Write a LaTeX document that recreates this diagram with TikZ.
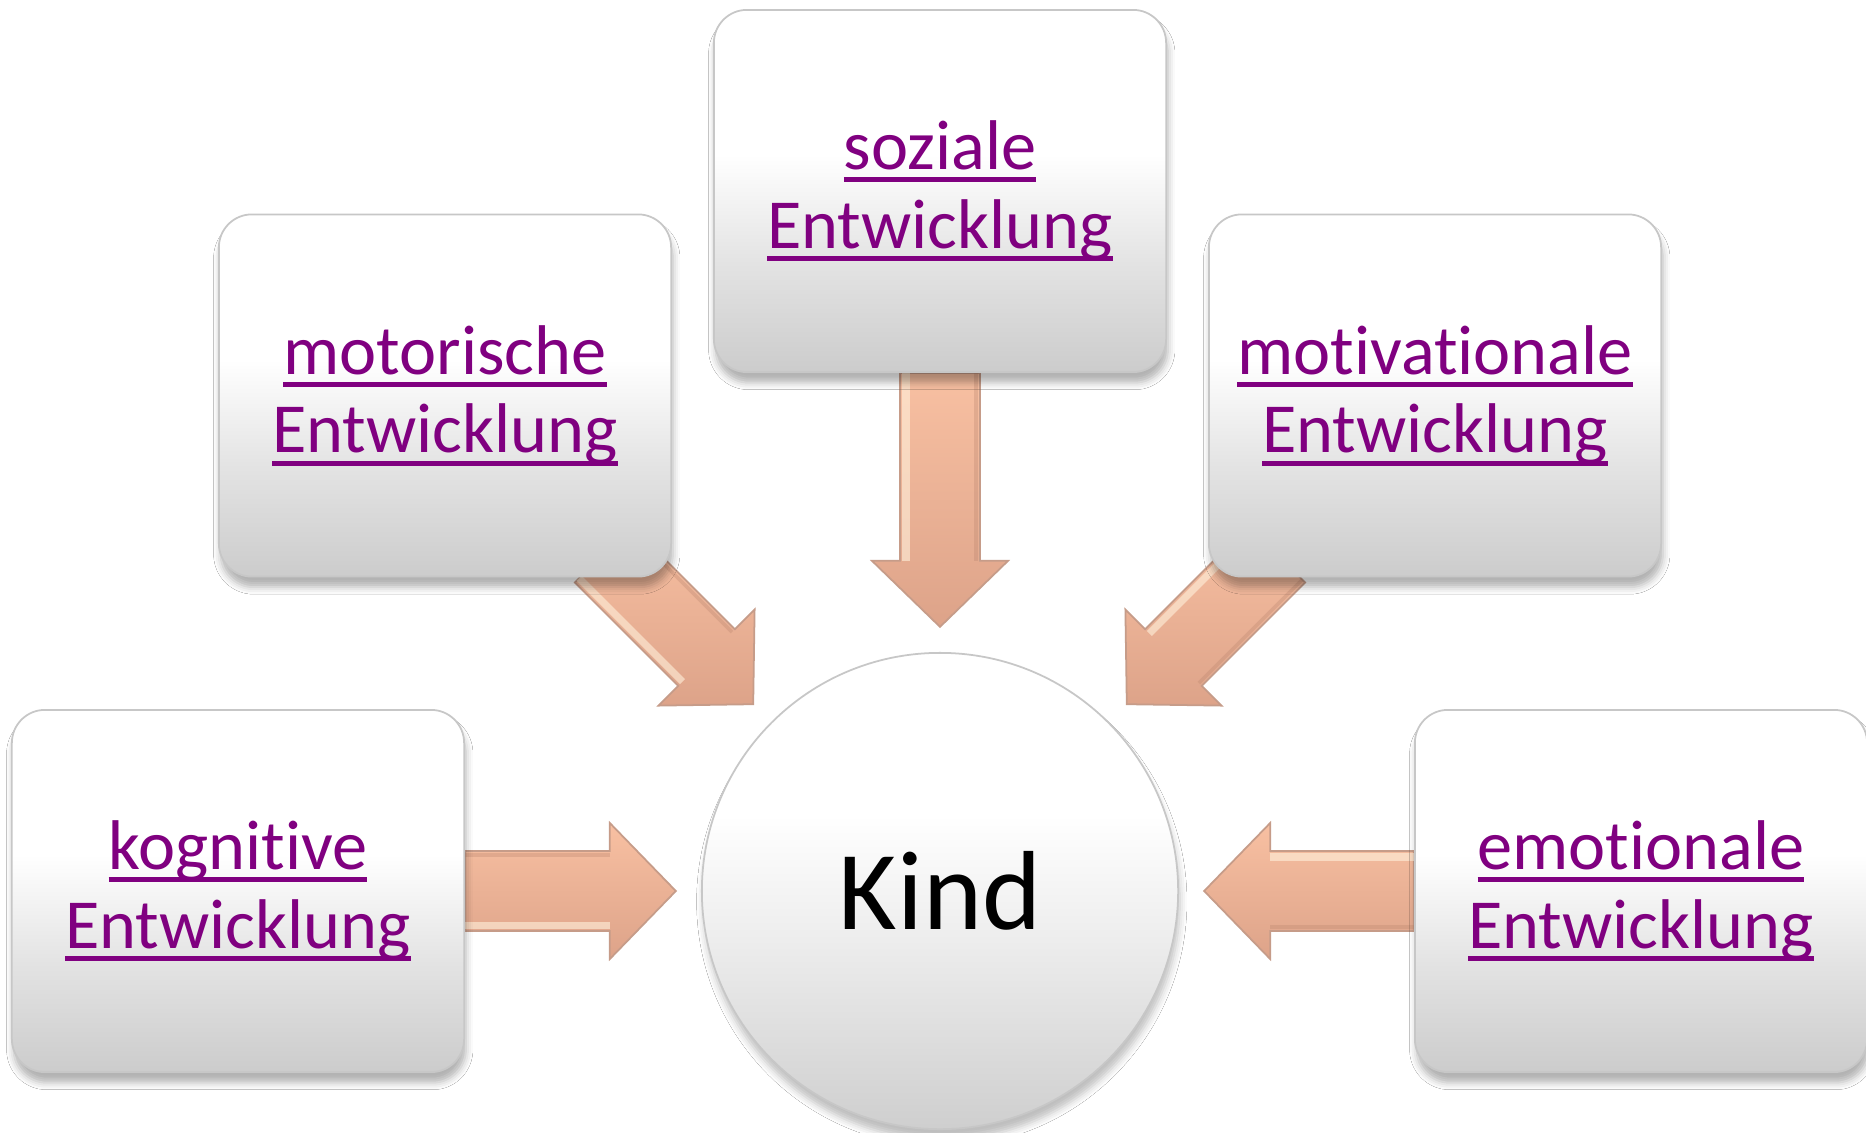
\documentclass[tikz,border=0pt]{standalone}
\usepackage{fontspec}
\setmainfont{Carlito}[RawFeature={-liga;-clig;-calt;-dlig}]
\usetikzlibrary{calc,shadows.blur}
\definecolor{lila}{HTML}{800080}
\definecolor{arrTop}{HTML}{F8C0A2}
\definecolor{arrBot}{HTML}{DDA389}
\definecolor{arrLine}{HTML}{B8836C}
\definecolor{arrHi}{HTML}{FFF1DC}
\pgfdeclarelayer{bg}
\pgfsetlayers{bg,main}
\pgfdeclareverticalshading{boxshade}{100bp}{color(0bp)=(black!20); color(25bp)=(black!20); color(40bp)=(black!11); color(55bp)=(white); color(100bp)=(white)}
\pgfdeclareverticalshading{ballshade}{100bp}{color(0bp)=(black!19); color(25bp)=(black!19); color(45bp)=(black!7); color(58bp)=(white); color(100bp)=(white)}
\newcommand\myul[1]{\setbox0\hbox{#1}\leavevmode\rlap{\rule[-0.18em]{\wd0}{0.07em}}\box0}
\newcommand\lblfont{\fontsize{20}{22.4}\selectfont}
\newcommand\blockarrow[2]{%
  \coordinate (h) at ($(#2)!0.66cm!(#1)$);
  \draw[arrbody] ($(#1)!0.40cm!90:(#2)$) -- ($(h)!0.40cm!90:(#2)$) -- ($(h)!0.68cm!90:(#2)$) -- (#2) -- ($(h)!0.68cm!-90:(#2)$) -- ($(h)!0.40cm!-90:(#2)$) -- ($(#1)!0.40cm!-90:(#2)$) -- cycle;
  \draw[arrhi] ($(#1)!0.34cm!-90:(#2)$) -- ($(h)!0.34cm!-90:(#2)$);
  \draw[arrlo] ($(#1)!0.36cm!90:(#2)$) -- ($(h)!0.36cm!90:(#2)$);
}
\tikzset{
  box/.style={rectangle, rounded corners=0.33cm, minimum width=4.52cm, minimum height=3.62cm,
    draw=black!22, line width=0.5pt, shade, shading=boxshade,
    blur shadow={shadow xshift=0.5pt, shadow yshift=-3pt, shadow blur radius=2pt, shadow opacity=30},
    align=center, font=\lblfont, text=lila, inner sep=0pt},
  ball/.style={circle, minimum size=4.76cm, inner sep=0pt, draw=black!22, line width=0.5pt,
    shade, shading=ballshade,
    blur shadow={shadow xshift=0.5pt, shadow yshift=-3pt, shadow blur radius=2pt, shadow opacity=25},
    font=\fontsize{32}{36}\selectfont, text=black},
  arrbody/.style={draw=arrLine!80, line width=0.5pt, top color=arrTop, bottom color=arrBot, line join=miter},
  arrhi/.style={draw=arrHi, line width=2pt, opacity=0.6},
  arrlo/.style={draw=arrLine, line width=1pt, opacity=0.3}
}
\begin{document}
\begin{tikzpicture}[x=0.01cm, y=-0.01cm]
\useasboundingbox (0,0) rectangle (1866,1133);

\node[box] (soz) at (940,191) {\myul{soziale}\\\myul{Entwicklung}};
\node[box] (mot) at (445,395.5) {\myul{motorische}\\\myul{Entwicklung}};
\node[box] (motv) at (1435,395.5) {\myul{motivationale}\\\myul{Entwicklung}};
\node[box] (kog) at (238,891) {\myul{kognitive}\\\myul{Entwicklung}};
\node[box] (emo) at (1641,891) {\myul{emotionale}\\\myul{Entwicklung}};
\node[ball] (kind) at (940,891) {Kind};

\coordinate (tk) at ($(kind.center)+(180:2.64cm)$);
\coordinate (te) at ($(kind.center)+(0:2.64cm)$);
\coordinate (ts) at ($(kind.center)+(90:2.64cm)$);
\coordinate (tm) at ($(kind.center)+(135:2.64cm)$);
\coordinate (tv) at ($(kind.center)+(45:2.64cm)$);
\coordinate (sm) at ($(kind.center)+(135:4.76cm)$);
\coordinate (sv) at ($(kind.center)+(45:4.76cm)$);

\begin{pgfonlayer}{bg}
\fill[white] (0,0) rectangle (1866,1133);
\blockarrow{kog.east}{tk}
\blockarrow{emo.west}{te}
\blockarrow{soz.south}{ts}
\blockarrow{sm}{tm}
\blockarrow{sv}{tv}
\end{pgfonlayer}
\end{tikzpicture}
\end{document}
